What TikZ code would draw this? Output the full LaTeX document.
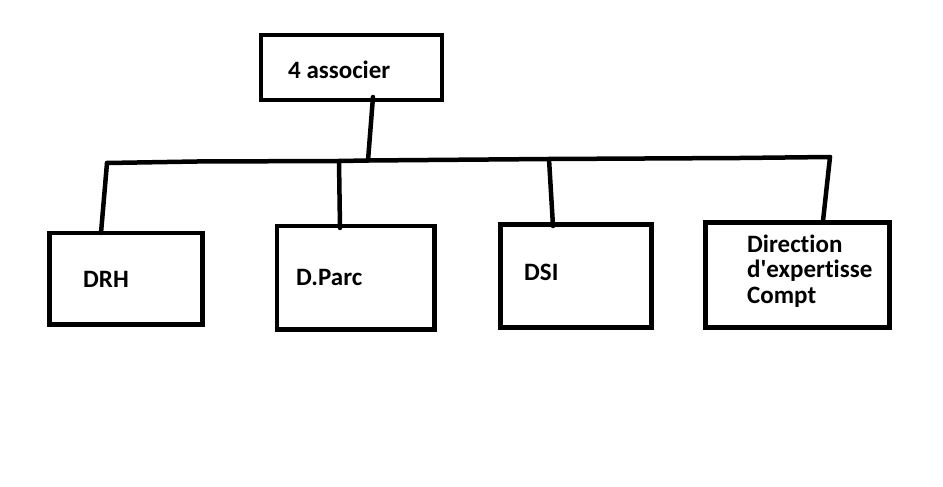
\documentclass[tikz,border=0pt]{standalone}
\usepackage{fontspec}
\newfontfamily\lblfont{Carlito}[Ligatures=NoCommon]
\begin{document}
\begin{tikzpicture}[x=1pt,y=-1pt,
  box/.style={draw=black, line width=4.5pt, inner sep=0pt, rectangle, miter limit=10},
  lbl/.style={anchor=base west, inner sep=0pt, font=\lblfont\fontsize{25}{25.5}\selectfont\bfseries, text=black},
  wire/.style={draw=black, line width=4.5pt, line cap=round, line join=round}]
\useasboundingbox[fill=white] (0,0) rectangle (943,487);
% boxes
\node[box, minimum width=181pt, minimum height=65pt] (top) at (351.5,67.5) {};
\node[box, minimum width=153pt, minimum height=91.5pt] (drh) at (126,278.75) {};
\node[box, minimum width=157.5pt, minimum height=103.5pt] (parc) at (355.75,277.75) {};
\node[box, minimum width=151pt, minimum height=103pt] (dsi) at (576,276) {};
\node[box, minimum width=184pt, minimum height=105pt] (dir) at (797.5,275) {};
% labels
\node[lbl] (ttop) at (288,78) {4 associer};
\node[lbl] (tdrh) at (83,287) {DRH};
\node[lbl] (tparc) at (296,285) {D.Parc};
\node[lbl] (tdsi) at (524,280) {DSI};
\node[lbl] (tdir1) at (747,252) {Direction};
\node[lbl] (tdir2) at (747,277.5) {d'expertisse};
\begin{scope}
\clip (700,280) rectangle (890,308);
\node[lbl] (tdir3) at (747,303) {Compt};
\end{scope}
% bus coordinates
\coordinate (b1) at (107,163);
\coordinate (b2) at (197,161.5);
\coordinate (b3) at (339,161);
\coordinate (b4) at (368,160.5);
\coordinate (b5) at (549,159);
\coordinate (b6) at (740,158);
\coordinate (b7) at (830,157);
% attachment points
\coordinate (topB) at (373,97);
\coordinate (drhT) at (101,233);
\coordinate (parcT) at (340,228);
\coordinate (dsiT) at (553,226);
\coordinate (dirT) at (823,221);
% connectors
\draw[wire] (b1) -- (b2) -- (b3) -- (b4) -- (b5) -- (b6) -- (b7);
\draw[wire] (topB) -- (b4);
\draw[wire] (b1) -- (drhT);
\draw[wire] (b3) -- (parcT);
\draw[wire] (b5) -- (dsiT);
\draw[wire] (b7) -- (dirT);
\end{tikzpicture}
\end{document}
